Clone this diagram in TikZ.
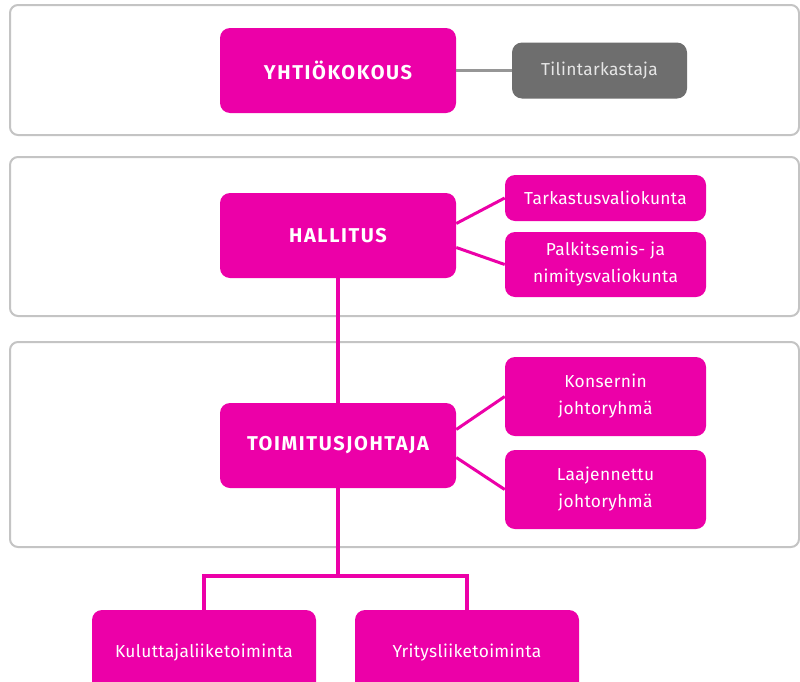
\documentclass[tikz,border=0pt]{standalone}
\usepackage{fontspec}
\setmainfont{Fira Sans}
\newfontfamily\regf[LetterSpace=2]{Fira Sans}
\newfontfamily\boldf[LetterSpace=8]{Fira Sans}
\definecolor{mag}{RGB}{236,0,168}
\definecolor{greybox}{RGB}{110,110,110}
\definecolor{greytext}{RGB}{230,230,230}
\definecolor{panelc}{RGB}{196,196,196}
\definecolor{greyline}{RGB}{150,150,150}
\tikzset{
  panelbox/.style={draw=panelc, line width=1.5pt, rounded corners=6pt},
  basebox/.style={rounded corners=7.5pt, inner sep=0pt, align=center},
  bigbox/.style={basebox, fill=mag, text=white, minimum width=177pt, minimum height=63.75pt,
    font=\boldf\bfseries\fontsize{15}{18}\selectfont},
  smallbox/.style={basebox, fill=mag, text=white, minimum width=150.75pt,
    font=\regf\fontsize{13}{20.25}\selectfont},
  greyb/.style={basebox, fill=greybox, text=greytext, minimum width=131.25pt, minimum height=42pt,
    font=\regf\fontsize{13}{20.25}\selectfont},
  bottombox/.style={basebox, fill=mag, text=white, minimum width=168pt, minimum height=63.75pt,
    font=\regf\fontsize{13}{20.25}\selectfont},
  greyconn/.style={draw=greyline, line width=2.25pt},
  magthin/.style={draw=mag, line width=2.25pt},
  magthick/.style={draw=mag, line width=3pt},
}
\begin{document}
\begin{tikzpicture}[x=0.75pt,y=-0.75pt]
\useasboundingbox (0,0) rectangle (800,682);
\fill[white] (0,0) rectangle (800,682);
% panels
\draw[panelbox] (10,5) rectangle (799,135);
\draw[panelbox] (10,157) rectangle (799,316);
\draw[panelbox] (10,342) rectangle (799,547);
% nodes
\node[bigbox] (yht) at (338,70.5) {YHTIÖKOKOUS};
\node[greyb] (tili) at (599.5,70.5) {Tilintarkastaja};
\node[bigbox] (hal) at (338,235.5) {HALLITUS};
\node[smallbox, minimum height=34.5pt] (tark) at (605.5,198) {Tarkastusvaliokunta};
\node[smallbox, minimum height=48.75pt] (palk) at (605.5,264.5) {Palkitsemis- ja\\nimitysvaliokunta};
\node[bigbox] (toim) at (338,445.5) {TOIMITUSJOHTAJA};
\node[smallbox, minimum height=59.25pt] (kons) at (605.5,396.5) {Konsernin\\johtoryhmä};
\node[smallbox, minimum height=59.25pt] (laaj) at (605.5,489.5) {Laajennettu\\johtoryhmä};
\node[bottombox] (kulu) at (204,652.5) {Kuluttajaliiketoiminta};
\node[bottombox] (yrit) at (467,652.5) {Yritysliiketoiminta};
% connectors
\draw[greyconn] (yht.east) -- (tili.west);
\draw[magthin] ([yshift=9pt]hal.east) -- (tark.west);
\draw[magthin] ([yshift=-9pt]hal.east) -- (palk.west);
\draw[magthin] ([yshift=12pt]toim.east) -- (kons.west);
\draw[magthin] ([yshift=-9pt]toim.east) -- (laaj.west);
\draw[magthick] (hal.south) -- (toim.north);
\path (toim.south) ++(0,88) coordinate (bus);
\draw[magthick] (toim.south) -- (bus);
\draw[magthick] (kulu.north) |- (bus) -| (yrit.north);
\end{tikzpicture}
\end{document}
